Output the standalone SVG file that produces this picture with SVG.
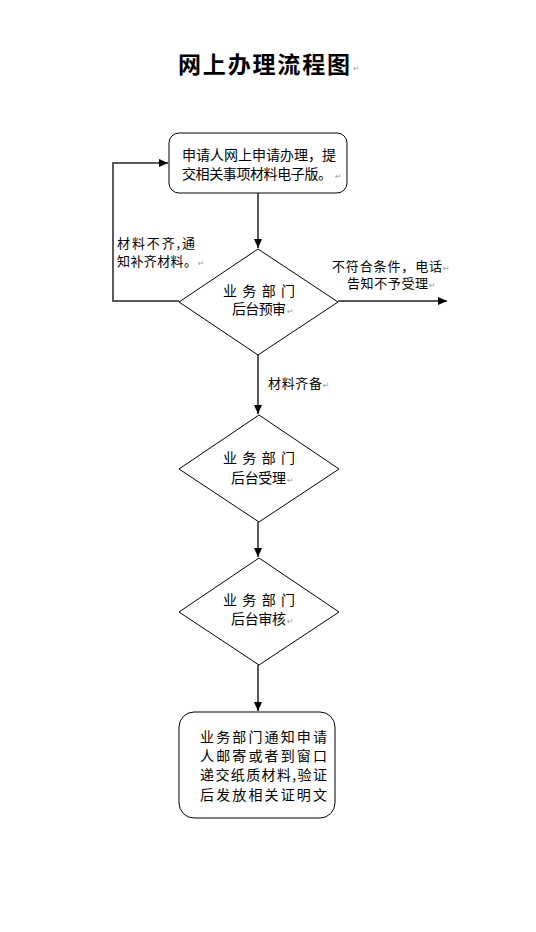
<svg xmlns="http://www.w3.org/2000/svg" width="536" height="932" viewBox="0 0 536 932">
<defs>
<marker id="ah" markerWidth="10" markerHeight="10" refX="9" refY="5" orient="auto" markerUnits="userSpaceOnUse">
<path d="M0,1 L9,5 L0,9 Z" fill="#000"/>
</marker>
<style>
.t{font-family:"Noto Sans CJK SC","Liberation Sans",sans-serif;font-size:14px;fill:#000}
.s{font-family:"Noto Sans CJK SC","Liberation Sans",sans-serif;font-size:13px;fill:#000}
.rm{font-family:"DejaVu Sans",sans-serif;font-size:8px;fill:#999}
.box{fill:#fff;stroke:#000;stroke-width:1}
.ln{fill:none;stroke:#5a5a5a;stroke-width:2}
</style>
</defs>
<rect width="536" height="932" fill="#fff"/>
<g id="title">
<text x="178" y="73" font-family="'Noto Sans CJK SC',sans-serif" font-weight="bold" font-size="23" textLength="172" lengthAdjust="spacing">网上办理流程图</text>
<text class="rm" x="353" y="71">↵</text>
</g>
<g id="connectors">
<path class="ln" d="M258,193 V248" marker-end="url(#ah)"/>
<path class="ln" d="M179,301 H113 V163 H168" marker-end="url(#ah)"/>
<path class="ln" d="M338,301 H447" marker-end="url(#ah)"/>
<path class="ln" d="M258,355 V414" marker-end="url(#ah)"/>
<path class="ln" d="M258,522 V557" marker-end="url(#ah)"/>
<path class="ln" d="M258,665 V711" marker-end="url(#ah)"/>
</g>
<g id="labels">
<text class="s" x="117" y="248" textLength="78" lengthAdjust="spacing">材料不齐,通</text>
<text class="s" x="117" y="266" textLength="80" lengthAdjust="spacing">知补齐材料。</text>
<text class="rm" x="198" y="266">↵</text>
<text class="s" x="332" y="271" textLength="110" lengthAdjust="spacing">不符合条件，电话</text>
<text class="rm" x="443" y="271">↵</text>
<text class="s" x="347" y="288" textLength="81" lengthAdjust="spacing">告知不予受理</text>
<text class="rm" x="429" y="288">↵</text>
<text class="s" x="268" y="388" textLength="54" lengthAdjust="spacing">材料齐备</text>
<text class="rm" x="323" y="388">↵</text>
</g>
<g id="n1">
<rect class="box" x="169" y="133" width="178" height="60" rx="10"/>
<text class="t" x="182" y="160" textLength="154" lengthAdjust="spacing">申请人网上申请办理，提</text>
<text class="t" x="182" y="179" textLength="150" lengthAdjust="spacing">交相关事项材料电子版。</text>
<text class="rm" x="335" y="179">↵</text>
</g>
<g id="n2">
<polygon class="box" points="258,249 338,302 258,355 179,302"/>
<text class="t" x="223" y="296" textLength="72" lengthAdjust="spacing">业 务 部 门</text>
<text class="t" x="232" y="314" textLength="54" lengthAdjust="spacing">后台预审</text>
<text class="rm" x="287" y="314">↵</text>
</g>
<g id="n3">
<polygon class="box" points="259,415 339,469 259,522 179,469"/>
<text class="t" x="223" y="463" textLength="72" lengthAdjust="spacing">业 务 部 门</text>
<text class="t" x="231" y="483" textLength="55" lengthAdjust="spacing">后台受理</text>
<text class="rm" x="287" y="483">↵</text>
</g>
<g id="n4">
<polygon class="box" points="259,558 339,612 259,665 179,612"/>
<text class="t" x="223" y="605" textLength="72" lengthAdjust="spacing">业 务 部 门</text>
<text class="t" x="231" y="624" textLength="55" lengthAdjust="spacing">后台审核</text>
<text class="rm" x="287" y="624">↵</text>
</g>
<g id="n5">
<rect class="box" x="179" y="712" width="156" height="106" rx="15"/>
<text class="t" x="200" y="742" textLength="127" lengthAdjust="spacing">业务部门通知申请</text>
<text class="t" x="200" y="761" textLength="127" lengthAdjust="spacing">人邮寄或者到窗口</text>
<text class="t" x="200" y="780" textLength="127" lengthAdjust="spacing">递交纸质材料,验证</text>
<text class="t" x="200" y="800" textLength="127" lengthAdjust="spacing">后发放相关证明文</text>
</g>
</svg>
